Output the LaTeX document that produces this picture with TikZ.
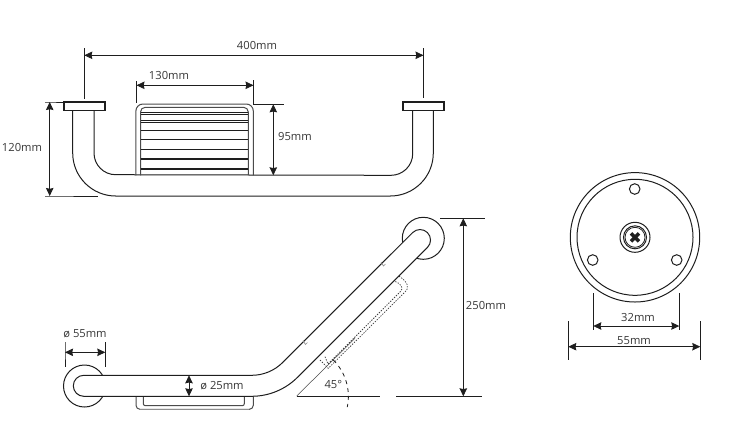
\documentclass[tikz,border=0pt]{standalone}
\usepackage{fontspec}
\setmainfont{Open Sans}
\usepackage{xcolor}
\usetikzlibrary{arrows.meta,positioning}
\definecolor{inkcolor}{RGB}{30,30,30}
\definecolor{labelcolor}{RGB}{55,55,55}

\begin{document}
\begin{tikzpicture}[
    x=0.75pt, y=-0.75pt,
    tube/.style={draw=inkcolor, line width=0.75pt, fill=white},
    outline/.style={draw=inkcolor, line width=0.75pt},
    thinline/.style={draw=inkcolor, line width=0.6pt},
    hidden/.style={draw=inkcolor!85, line width=0.55pt, dash pattern=on 1pt off 1pt},
    dim/.style={{Stealth[length=6pt,width=5.6pt,inset=0.6pt]}-{Stealth[length=6pt,width=5.6pt,inset=0.6pt]}, draw=inkcolor, line width=0.6pt},
    label/.style={font=\fontsize{8.4}{10}\selectfont, text=labelcolor, inner sep=0pt}
]
\useasboundingbox (0,0) rectangle (749,430);

% front view
\draw[outline] (72.7,111) -- (72.7,153) arc[start angle=180, end angle=90, radius=43] -- (390.3,196)
    arc[start angle=90, end angle=0, radius=43] -- (433.3,111);
\draw[outline] (94,111) -- (94,153) arc[start angle=180, end angle=90, radius=21.7] -- (391,175.3)
    arc[start angle=90, end angle=0, radius=21.7] -- (412.7,111);
\node[draw=inkcolor, line width=1.1pt, minimum width=30.6pt, minimum height=6.4pt, inner sep=0pt] (flangeL) at (84.5,106.3) {};
\node[draw=inkcolor, line width=1.1pt, minimum width=30.6pt, minimum height=6.4pt, inner sep=0pt] (flangeR) at (423.5,106.3) {};

% basket
\draw[outline, draw=inkcolor!80] (135.9,175.3) -- (135.9,111) arc[start angle=180, end angle=270, radius=7] -- (246.3,104)
    arc[start angle=270, end angle=360, radius=7] -- (253.3,175.3);
\draw[outline, draw=inkcolor!80] (140.5,175.3) -- (140.5,112) arc[start angle=180, end angle=270, radius=4.7] -- (243.6,107.3)
    arc[start angle=270, end angle=360, radius=4.7] -- (248.3,175.3);
\foreach \slat/\wd in {112.4/0.4, 114/0.4, 120.7/0.4, 122.4/0.4, 130.7/0.8, 139/0.6, 149/0.6, 159/0.8, 169/0.8}
    \draw[draw=inkcolor, line width=\wd pt] (140.5,\slat) -- (248.3,\slat);

% front dimensions
\coordinate (a1) at (84.3,55.3);
\coordinate (a2) at (423.5,55.3);
\draw[thinline] (84.3,48) -- (a1) -- (84.3,99);
\draw[thinline] (423.5,48) -- (a2) -- (423.5,98);
\draw[dim] (a1) -- (a2);
\node[label] (l400) at (257,45) {400mm};

\coordinate (b1) at (136.5,85.3);
\coordinate (b2) at (253.5,85.3);
\draw[thinline] (136.5,81) -- (b1) -- (136.5,103);
\draw[thinline] (253.5,80) -- (b2) -- (253.5,104);
\draw[dim] (b1) -- (b2);
\node[label] (l130) at (169,75) {130mm};

\coordinate (c1) at (273.3,104.3);
\coordinate (c2) at (273.3,175.3);
\draw[thinline] (253,104.3) -- (c1) -- (284,104.3);
\draw[dim] (c1) -- (c2);
\node[label] (l95) at (295,136.5) {95mm};

\coordinate (d1) at (49.7,102);
\coordinate (d2) at (49.7,196);
\draw[thinline] (45,102) -- (d1) -- (63,102);
\draw[thinline] (45,196) -- (d2) -- (98,196);
\draw[dim] (d1) -- (d2);
\node[label] (l120) at (22,147) {120mm};

% side view
\draw[outline] (84.5,386) circle[radius=21];
\draw[outline] (423.3,238.3) circle[radius=21];
\draw[outline, draw=inkcolor!80] (136,396.3) -- (136,405.3) arc[start angle=180, end angle=90, radius=4] -- (249.3,409.3)
    arc[start angle=90, end angle=0, radius=4] -- (253.3,396.3);
\draw[outline, draw=inkcolor!80] (143.3,396.3) -- (143.3,403.7) arc[start angle=180, end angle=90, radius=2] -- (242.3,405.7)
    arc[start angle=90, end angle=0, radius=2] -- (244.3,396.3);
\draw[draw=inkcolor!50, line width=0.8pt] (140,409.8) -- (249,409.8);
\draw[hidden] (320,360) -- (328.3,368.3) -- (405,292) .. controls (410,288) and (408,282) .. (398.8,276);
\draw[hidden] (325,356.7) -- (328,364) -- (400,292) .. controls (404,288) and (402,284) .. (394,281);
\draw[tube] (83.8,375.3) -- (251.7,375.3) arc[start angle=90, end angle=45, radius=43.8] -- (412.6,232.6)
    arc[start angle=225, end angle=405, radius=10.5] -- (297.5,377.3)
    arc[start angle=45, end angle=90, radius=64.8] -- (83.8,396.3)
    arc[start angle=90, end angle=270, radius=10.5] -- cycle;
\draw[draw=inkcolor!50, line width=0.5pt] (381,262) -- (383.5,266) -- (385.5,264);
\draw[draw=inkcolor!50, line width=0.5pt] (303,340.5) -- (305.5,344.5) -- (307.5,342.5);

% wall and angle
\coordinate (w0) at (296.7,396);
\draw[draw=inkcolor!80, line width=0.4pt] (w0) -- (355,338.3);
\draw[thinline] (w0) -- (380,396);
\draw[thinline, dashed] (333.3,360) arc[start angle=-45, end angle=12, radius=51.5];
\node[label] (l45) at (333.3,384) {45°};

% side dimensions
\coordinate (e1) at (65,352.3);
\coordinate (e2) at (105.3,352.3);
\draw[thinline] (65,342) -- (e1) -- (65,367);
\draw[thinline] (105.3,342) -- (e2) -- (105.3,367);
\draw[dim] (e1) -- (e2);
\node[label] (l55a) at (85,334) {ø 55mm};

\coordinate (f1) at (189,375.3);
\coordinate (f2) at (189,396.3);
\draw[dim] (f1) -- (f2);
\node[label] (l25) at (222,385.5) {ø 25mm};

\coordinate (g1) at (463.3,218.3);
\coordinate (g2) at (463.3,396.3);
\draw[thinline] (440,218.3) -- (g1) -- (485,218.3);
\draw[thinline] (396,396.3) -- (g2) -- (481.7,396.3);
\draw[dim] (g1) -- (g2);
\node[label] (l250) at (486,305) {250mm};

% rear view
\draw[outline] (635,237.3) circle[radius=64.7];
\draw[outline] (635,237.3) circle[radius=58];
\foreach \hole in {(634.7,189),(592.7,260),(676.7,260)}
    \draw[outline] \hole circle[radius=5.3];
\draw[outline] (635,237.3) circle[radius=15];
\draw[outline] (635,237.3) circle[radius=11.5];
\draw[thinline] (635,237.3) circle[radius=10];
\draw[inkcolor, line width=2.6pt] (631,233.3) -- (639,241.3);
\draw[inkcolor, line width=2.6pt] (631,241.3) -- (639,233.3);

\coordinate (h1) at (593.3,326);
\coordinate (h2) at (679.3,326);
\draw[thinline] (593.3,293.3) -- (h1) -- (593.3,330);
\draw[thinline] (679.3,293.3) -- (h2) -- (679.3,330);
\draw[dim] (h1) -- (h2);
\node[label] (l32) at (638,317) {32mm};

\coordinate (i1) at (568.3,346.7);
\coordinate (i2) at (700.3,346.7);
\draw[thinline] (568.3,321) -- (i1) -- (568.3,360);
\draw[thinline] (700.3,321) -- (i2) -- (700.3,360);
\draw[dim] (i1) -- (i2);
\node[label] (l55b) at (634,340.7) {55mm};
\end{tikzpicture}
\end{document}
